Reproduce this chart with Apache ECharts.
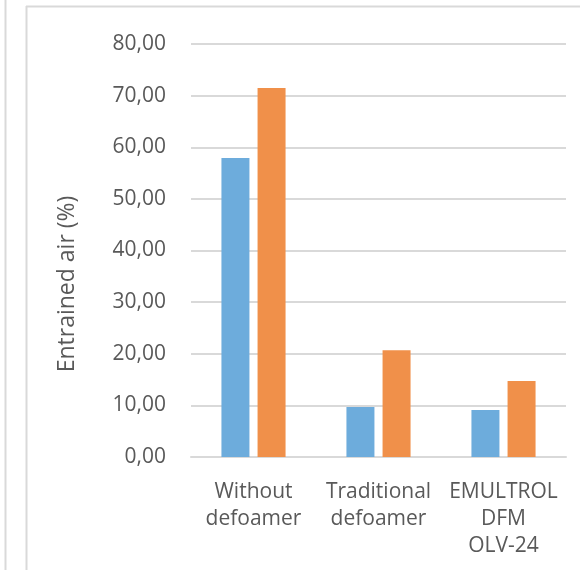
<!DOCTYPE html>
<html>
<head>
<meta charset="utf-8">
<script src="https://cdn.jsdelivr.net/npm/echarts@6/dist/echarts.min.js"></script>
<style>
html,body{margin:0;padding:0;background:#fff;}
#chart{width:580px;height:570px;}
</style>
</head>
<body>
<div id="chart"></div>
<script>
const categories = ["Without\ndefoamer", "Traditional\ndefoamer", "EMULTROL\nDFM\nOLV-24"];
const seriesA = [57.9, 9.7, 9.1];
const seriesB = [71.5, 20.7, 14.7];
const yTicks = [0, 10, 20, 30, 40, 50, 60, 70, 80];
const yTitle = "Entrained air (%)";

const chart = echarts.init(document.getElementById('chart'), null, {renderer: 'canvas'});
const fontFam = "'Open Sans', 'Noto Sans', sans-serif";
chart.setOption({
  animation: false,
  backgroundColor: '#ffffff',
  graphic: [
    {type: 'line', shape: {x1: 5.5, y1: 0, x2: 5.5, y2: 570}, style: {stroke: '#d9d9d9', lineWidth: 2}, silent: true},
    {type: 'line', shape: {x1: 26.5, y1: 6, x2: 26.5, y2: 570}, style: {stroke: '#d9d9d9', lineWidth: 2}, silent: true},
    {type: 'line', shape: {x1: 26, y1: 6.5, x2: 580, y2: 6.5}, style: {stroke: '#d9d9d9', lineWidth: 2}, silent: true},
    {type: 'text', x: 67, y: 284, rotation: Math.PI / 2, silent: true,
     style: {text: yTitle, fill: '#595959', font: "23px 'Open Sans', 'Noto Sans', sans-serif", align: 'center', verticalAlign: 'middle'}}
  ],
  grid: {left: 191, right: 14, top: 44, bottom: 113, containLabel: false},
  xAxis: {
    type: 'category',
    data: categories,
    axisLine: {show: true, lineStyle: {color: '#d9d9d9', width: 2}},
    axisTick: {show: false},
    axisLabel: {
      color: '#595959', fontSize: 21, fontFamily: fontFam, lineHeight: 27,
      margin: 22, interval: 0
    }
  },
  yAxis: {
    type: 'value',
    min: yTicks[0], max: yTicks[yTicks.length - 1], interval: 10,
    axisLine: {show: false},
    axisTick: {show: false},
    splitLine: {lineStyle: {color: '#d9d9d9', width: 2}},
    axisLabel: {
      color: '#595959', fontSize: 21, fontFamily: fontFam, margin: 25,
      formatter: v => v.toFixed(2).replace('.', ',')
    }
  },
  series: [
    {type: 'bar', data: seriesA, barWidth: 28, barGap: '29%', itemStyle: {color: '#6dacdc'}},
    {type: 'bar', data: seriesB, barWidth: 28, barGap: '29%', itemStyle: {color: '#f0904a'}}
  ]
});
</script>
</body>
</html>
